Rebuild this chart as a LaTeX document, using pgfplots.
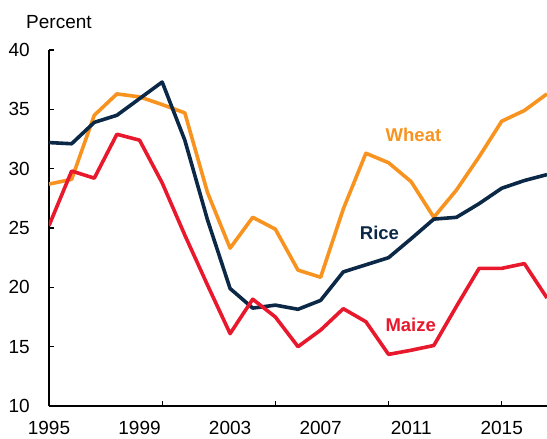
\documentclass[border=0pt]{standalone}
\usepackage{pgfplots}
\pgfplotsset{compat=1.18}
\usepackage{fontspec}
\setmainfont{Liberation Sans}
\definecolor{wheat}{HTML}{F7931E}
\definecolor{rice}{HTML}{0B2847}
\definecolor{maize}{HTML}{E8192C}
\begin{document}
\begin{tikzpicture}
\begin{axis}[
  scale only axis, width=498bp, height=356bp,
  xmin=1995, xmax=2017, ymin=10, ymax=40,
  axis x line*=bottom, axis y line*=left,
  axis line style={-, black, line width=1.3bp},
  tick align=inside,
  major tick length=5bp,
  tick style={black, line width=1.3bp},
  minor tick num=0,
  ytick={10,15,...,40},
  xtick={1995,2000,...,2015},
  xticklabels={{},{},{},{},{}},
  extra x ticks={1995,1999,2003,2007,2011,2015},
  extra x tick labels={1995,1999,2003,2007,2011,2015},
  extra x tick style={major tick length=0pt},
  /pgf/number format/assume math mode=true,
  tick label style={font=\fontsize{19bp}{20bp}\selectfont},
  yticklabel style={inner sep=0pt, xshift=-19bp},
  xticklabel style={inner sep=0pt, yshift=-15.5bp},
  every axis plot/.append style={line width=3.6bp, line join=round, mark=none},
]
\addplot[color=wheat] coordinates {
 (1995,28.7) (1996,29.1) (1997,34.5) (1998,36.3) (1999,36.05) (2000,35.4)
 (2001,34.7) (2002,28.0) (2003,23.3) (2004,25.9) (2005,24.9) (2006,21.45)
 (2007,20.85) (2008,26.6) (2009,31.3) (2010,30.5) (2011,28.9) (2012,25.9)
 (2013,28.2) (2014,31.0) (2015,34.0) (2016,34.9) (2017,36.3)};
\addplot[color=rice] coordinates {
 (1995,32.2) (1996,32.1) (1997,33.9) (1998,34.5) (1999,35.9) (2000,37.3)
 (2001,32.4) (2002,25.7) (2003,19.9) (2004,18.25) (2005,18.5) (2006,18.15)
 (2007,18.9) (2008,21.3) (2009,21.9) (2010,22.5) (2011,24.1) (2012,25.75)
 (2013,25.9) (2014,27.05) (2015,28.35) (2016,29.0) (2017,29.5)};
\addplot[color=maize] coordinates {
 (1995,25.2) (1996,29.8) (1997,29.2) (1998,32.9) (1999,32.4) (2000,28.8)
 (2001,24.4) (2002,20.2) (2003,16.1) (2004,19.0) (2005,17.5) (2006,15.0)
 (2007,16.4) (2008,18.2) (2009,17.1) (2010,14.35) (2011,14.7) (2012,15.1)
 (2013,18.4) (2014,21.6) (2015,21.6) (2016,22.0) (2017,19.1)};
\node[text=wheat, font=\bfseries\fontsize{18.5bp}{20bp}\selectfont] at (axis cs:2011.1,32.83) {Wheat};
\node[text=rice, font=\bfseries\fontsize{18.5bp}{20bp}\selectfont] at (axis cs:2009.6,24.55) {Rice};
\node[text=maize, font=\bfseries\fontsize{18.5bp}{20bp}\selectfont] at (axis cs:2010.98,16.82) {Maize};
\end{axis}
\node[anchor=base west, inner sep=0pt, font=\fontsize{19bp}{21bp}\selectfont] at (-23bp,377bp) {Percent};
\pgfresetboundingbox
\path[use as bounding box] (-49bp,-33bp) rectangle (498bp,406bp);
\end{tikzpicture}
\end{document}
